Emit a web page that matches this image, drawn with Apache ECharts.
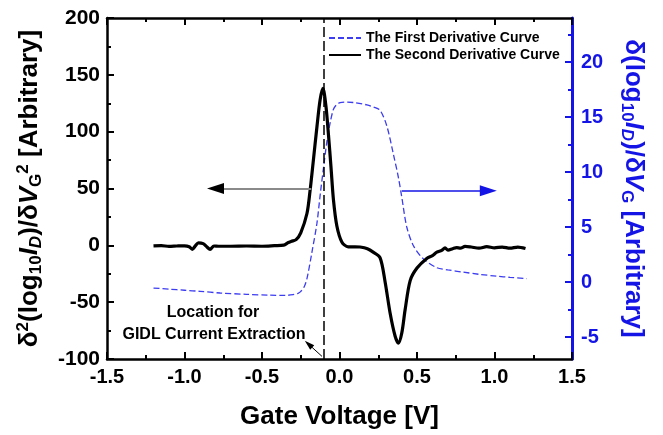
<!DOCTYPE html>
<html>
<head>
<meta charset="utf-8">
<title>GIDL derivative curves</title>
<script src="https://cdn.jsdelivr.net/npm/echarts@6/dist/echarts.min.js"></script>
<style>
  html, body { margin: 0; padding: 0; background: #fff; }
  #chart { width: 663px; height: 435px; }
</style>
</head>
<body>
<div id="chart"></div>
<script>
// second derivative (left axis)
var secondX = [-1.20, -1.15, -1.10, -1.05, -1.00, -0.97, -0.95, -0.93, -0.91, -0.88,
  -0.855, -0.835, -0.81, -0.78, -0.70, -0.60, -0.50, -0.42, -0.36, -0.33,
  -0.31, -0.28, -0.25, -0.21, -0.19, -0.17, -0.145, -0.125, -0.107, -0.088,
  -0.071, -0.055, -0.039, -0.017, 0.015, 0.056, 0.10, 0.133, 0.18, 0.217,
  0.262, 0.294, 0.327, 0.359, 0.38, 0.402, 0.423, 0.456, 0.50, 0.563,
  0.60, 0.628, 0.66, 0.681, 0.70, 0.73, 0.756, 0.78, 0.81, 0.85,
  0.90, 0.95, 1.00, 1.05, 1.10, 1.15, 1.20];
var secondY = [-0.5, -0.3, -0.9, -0.6, -0.4, -1.2, -3.5, -0.5, 2.2, 1.5,
  -1.5, -3.5, -0.6, -0.8, -0.8, -0.6, -0.8, -0.3, 0.2, 2.5,
  3.5, 5, 11, 28, 48, 73, 105, 128, 138, 123,
  97, 69, 40, 17, 3, -1.3, -1.3, -1.5, -3, -6,
  -11, -32, -60, -80, -86, -77, -57, -31, -20, -11.5,
  -9, -6, -4.5, -2.3, -4.3, -3, -2, -2.5, -0.9, -1.5,
  -2.5, -1.2, -2.2, -1.5, -2.5, -1.5, -2.8];

// first derivative (right axis)
var firstX = [-1.20, -1.10, -1.00, -0.90, -0.77, -0.60, -0.45, -0.35, -0.30, -0.27,
  -0.253, -0.23, -0.21, -0.178, -0.146, -0.124, -0.103, -0.081, -0.060, -0.039,
  -0.02, 0.004, 0.05, 0.10, 0.177, 0.22, 0.262, 0.305, 0.348, 0.38,
  0.402, 0.434, 0.477, 0.541, 0.628, 0.70, 0.797, 0.90, 1.014, 1.10, 1.207];
var firstY = [-0.55, -0.65, -0.75, -0.85, -1.0, -1.12, -1.2, -1.22, -1.15, -1.05,
  -0.9, -0.5, 0.3, 2.7, 5.3, 8.0, 10.4, 12.8, 14.5, 15.7,
  16.1, 16.3, 16.35, 16.3, 16.1, 15.9, 15.6, 14.2, 11.6, 9.5,
  7.7, 5.0, 3.3, 2.1, 1.3, 1.1, 0.9, 0.7, 0.53, 0.42, 0.3];

// axis ticks
var rightTicks = [-5, 0, 5, 10, 15, 20];
var rightMinor = [-2.5, 2.5, 7.5, 12.5, 17.5, 22.5];

// annotations
var extractV = -0.1;
var leftArrow = [[-0.182, 50], [-0.80, 50]];
var rightArrow = [[0.402, 8.3], [0.96, 8.3]];
var gidlArrow = [[-0.113, -97.7], [-0.200, -86.9]];

var FONT = "'Liberation Sans', Arial, sans-serif";
var BLUE = '#1414e6';

function pairs(xs, ys) {
  return xs.map(function (x, i) { return [x, ys[i]]; });
}

var chart = echarts.init(document.getElementById('chart'));

var baseTick = { inside: true, length: 7, lineStyle: { color: '#000', width: 2 } };
var baseMinor = { show: true, splitNumber: 2, length: 4, lineStyle: { color: '#000', width: 2 } };

var nameRich = {
  m: { fontSize: 26, fontWeight: 'bold', fontFamily: FONT, lineHeight: 30 },
  mi: { fontSize: 26, fontWeight: 'bold', fontStyle: 'italic', fontFamily: FONT, lineHeight: 30 },
  sup: { fontSize: 17, fontWeight: 'bold', fontFamily: FONT, lineHeight: 17, verticalAlign: 'top' },
  sub: { fontSize: 17, fontWeight: 'bold', fontFamily: FONT, lineHeight: 17, verticalAlign: 'bottom' },
  subi: { fontSize: 17, fontWeight: 'bold', fontStyle: 'italic', fontFamily: FONT, lineHeight: 17, verticalAlign: 'bottom' }
};

var option = {
  animation: false,
  backgroundColor: '#fff',
  grid: { left: 107, right: 91, top: 18, bottom: 69 },
  legend: {
    orient: 'vertical',
    left: 328,
    top: 31,
    padding: 0,
    itemWidth: 32,
    itemHeight: 14,
    itemGap: 3,
    selectedMode: false,
    itemStyle: { opacity: 0 },
    textStyle: { fontSize: 14, fontWeight: 'bold', color: '#000', fontFamily: FONT },
    data: ['The First Derivative Curve', 'The Second Derivative Curve']
  },
  xAxis: [
    {
      type: 'value', position: 'bottom', min: -1.5, max: 1.5, interval: 0.5,
      name: 'Gate Voltage [V]', nameLocation: 'middle', nameGap: 45,
      nameTextStyle: { fontSize: 26, fontWeight: 'bold', color: '#000', fontFamily: FONT },
      axisLine: { onZero: false, lineStyle: { color: '#000', width: 2.5 } },
      axisTick: baseTick, minorTick: baseMinor,
      axisLabel: { fontSize: 20, fontWeight: 'bold', color: '#000', fontFamily: FONT, margin: 8,
        formatter: function (v) { return v.toFixed(1); } },
      splitLine: { show: false }
    },
    {
      type: 'value', position: 'top', min: -1.5, max: 1.5, interval: 0.5,
      axisLine: { onZero: false, lineStyle: { color: '#000', width: 2.5 } },
      axisTick: baseTick, minorTick: baseMinor,
      axisLabel: { show: false }, splitLine: { show: false }
    }
  ],
  yAxis: [
    {
      type: 'value', position: 'left', min: -100, max: 200, interval: 50,
      name: '{m|δ}{sup|2}{m|(log}{sub|10}{mi|I}{subi|D}{m|)/δ}{mi|V}{sub|G}{sup|2}{m| [Arbitrary]}',
      nameLocation: 'middle', nameRotate: 90, nameGap: 62,
      nameTextStyle: { color: '#000', rich: nameRich },
      axisLine: { onZero: false, lineStyle: { color: '#000', width: 2.5 } },
      axisTick: baseTick, minorTick: baseMinor,
      axisLabel: { fontSize: 21, fontWeight: 'bold', color: '#000', fontFamily: FONT, margin: 7 },
      splitLine: { show: false }
    },
    {
      type: 'value', position: 'right', min: -7, max: 24,
      name: '{m|δ(log}{sub|10}{mi|I}{subi|D}{m|)/δ}{mi|V}{sub|G}{m| [Arbitrary]}',
      nameLocation: 'middle', nameRotate: -90, nameGap: 46,
      nameTextStyle: { color: BLUE, rich: nameRich },
      axisLine: { onZero: false, lineStyle: { color: BLUE, width: 3 } },
      axisTick: { inside: true, length: 7, customValues: rightTicks, lineStyle: { color: BLUE, width: 2 } },
      axisLabel: { customValues: rightTicks, fontSize: 20, fontWeight: 'bold', color: BLUE, fontFamily: FONT, margin: 9 },
      splitLine: { show: false }
    },
    {
      type: 'value', position: 'right', min: -7, max: 24,
      axisLine: { show: false, onZero: false },
      axisTick: { inside: true, length: 4, customValues: rightMinor, lineStyle: { color: BLUE, width: 2 } },
      axisLabel: { show: false }, splitLine: { show: false }
    }
  ],
  series: [
    {
      name: 'The First Derivative Curve',
      type: 'line', xAxisIndex: 0, yAxisIndex: 1,
      data: pairs(firstX, firstY),
      smooth: 0.3, symbol: 'none', z: 2,
      lineStyle: { color: '#3c3cf0', width: 1.3, type: [6, 3] },
      itemStyle: { color: '#3c3cf0' },
      markLine: {
        silent: true, symbol: ['none', 'none'], label: { show: false },
        data: [
          [{ coord: rightArrow[0], lineStyle: { color: BLUE, width: 1.5, type: 'solid' } },
           { coord: rightArrow[1], symbol: 'triangle', symbolSize: [11, 17] }]
        ]
      }
    },
    {
      name: 'The Second Derivative Curve',
      type: 'line', xAxisIndex: 0, yAxisIndex: 0,
      data: pairs(secondX, secondY),
      smooth: 0.3, symbol: 'none', z: 3,
      lineStyle: { color: '#000', width: 3.2 },
      itemStyle: { color: '#000' },
      markLine: {
        silent: true, symbol: ['none', 'none'], label: { show: false },
        data: [
          { xAxis: extractV, lineStyle: { color: '#000', width: 1.5, type: [10, 4] } },
          [{ coord: leftArrow[0], lineStyle: { color: '#8a8a8a', width: 2, type: 'solid' } },
           { coord: leftArrow[1] }],
          [{ coord: [leftArrow[1][0] + 0.01, leftArrow[1][1]], lineStyle: { color: '#000', width: 1, type: 'solid' } },
           { coord: leftArrow[1], symbol: 'triangle', symbolSize: [11, 17] }],
          [{ coord: gidlArrow[0], lineStyle: { color: '#000', width: 1, type: 'solid' } },
           { coord: gidlArrow[1], symbol: 'triangle', symbolSize: [6, 10] }]
        ]
      }
    }
  ],
  graphic: [
    { type: 'text', x: 213, y: 313,
      style: { text: 'Location for', fill: '#000', font: 'bold 16px ' + FONT, align: 'center', verticalAlign: 'middle' } },
    { type: 'text', x: 214, y: 335,
      style: { text: 'GIDL Current Extraction', fill: '#000', font: 'bold 16px ' + FONT, align: 'center', verticalAlign: 'middle' } }
  ]
};

chart.setOption(option);
</script>
</body>
</html>
